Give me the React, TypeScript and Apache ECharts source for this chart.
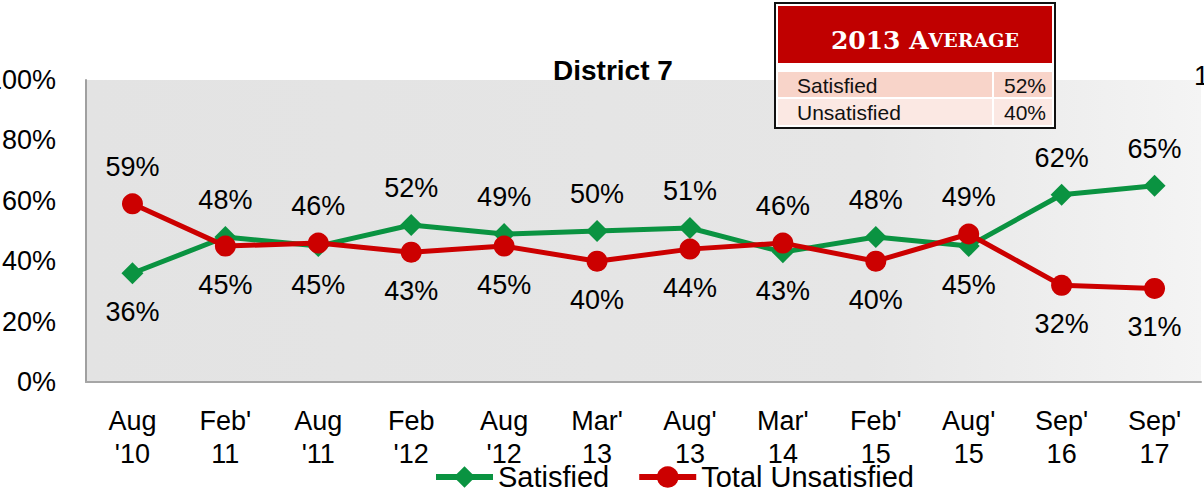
import React, { useEffect, useRef } from "react";
import * as echarts from "echarts";

const categories = ["Aug\n'10", "Feb'\n11", "Aug\n'11", "Feb\n'12", "Aug\n'12", "Mar'\n13", "Aug'\n13", "Mar'\n14", "Feb'\n15", "Aug'\n15", "Sep'\n16", "Sep'\n17"];
const satisfied = [36, 48, 45, 52, 49, 50, 51, 43, 48, 45, 62, 65];
const unsatisfied = [59, 45, 46, 43, 45, 40, 44, 46, 40, 49, 32, 31];
const yTicks = { min: 0, max: 100, interval: 20 };
const avgLabels = ["Satisfied", "Unsatisfied"];
const avgValues = [52, 40];

const FONT = "'Liberation Sans', Arial, sans-serif";
const GREEN = "#0A9341";
const RED = "#CC0000";

function labelled(values: number[], other: number[]) {
  return values.map((v, i) => ({
    value: v,
    label: { offset: [0, v >= other[i] ? -37 : 39] },
  }));
}

export default function App() {
  const ref = useRef<HTMLDivElement>(null);
  useEffect(() => {
    if (!ref.current) return;
    const chart = echarts.init(ref.current, null, { renderer: "svg" });
    const tableX = 775;
    const tableY = 3;
    chart.setOption({
      animation: false,
      backgroundColor: "#ffffff",
      title: {
        text: "District 7",
        left: 553,
        top: 56,
        padding: 0,
        textStyle: { fontSize: 28, fontWeight: "bold", fontFamily: FONT, color: "#000" },
      },
      grid: {
        left: 86,
        top: 80,
        width: 1115,
        height: 302,
        outerBoundsMode: "none",
        containLabel: false,
        show: true,
        borderWidth: 0,
        backgroundColor: new echarts.graphic.LinearGradient(0, 0, 1, 0, [
          { offset: 0, color: "#E3E3E3" },
          { offset: 0.7, color: "#E6E6E6" },
          { offset: 1, color: "#F4F4F4" },
        ]),
      },
      legend: {
        data: ["Satisfied", "Total Unsatisfied"],
        left: 433,
        top: 462,
        padding: 0,
        itemWidth: 57,
        itemHeight: 27,
        itemGap: 27,
        lineStyle: { width: 6 },
        textStyle: { fontSize: 29, fontFamily: FONT, color: "#000", lineHeight: 30 },
      },
      xAxis: {
        type: "category",
        data: categories,
        boundaryGap: true,
        axisTick: { show: false },
        axisLine: { show: true, lineStyle: { color: "#A6A6A6", width: 2 } },
        axisLabel: { fontSize: 27, fontFamily: FONT, color: "#000", margin: 22, lineHeight: 33, interval: 0 },
      },
      yAxis: {
        type: "value",
        min: yTicks.min,
        max: yTicks.max,
        interval: yTicks.interval,
        splitLine: { show: false },
        axisTick: { show: false },
        axisLine: { show: true, lineStyle: { color: "#A0A0A0", width: 2 } },
        axisLabel: { fontSize: 27, fontFamily: FONT, color: "#000", margin: 30, formatter: "{value}%" },
      },
      series: [
        {
          name: "Satisfied",
          type: "line",
          data: labelled(satisfied, unsatisfied),
          symbol: "diamond",
          symbolSize: 22,
          lineStyle: { color: GREEN, width: 5 },
          itemStyle: { color: GREEN },
          label: { show: true, position: "inside", formatter: "{c}%", fontSize: 27, fontFamily: FONT, color: "#000" },
          z: 2,
        },
        {
          name: "Total Unsatisfied",
          type: "line",
          data: labelled(unsatisfied, satisfied),
          symbol: "circle",
          symbolSize: 21,
          lineStyle: { color: RED, width: 5 },
          itemStyle: { color: RED },
          label: { show: true, position: "inside", formatter: "{c}%", fontSize: 27, fontFamily: FONT, color: "#000" },
          z: 3,
        },
      ],
      graphic: [
        {
          type: "text",
          left: 1194,
          top: 62,
          style: { text: "100%", fontSize: 27, fontFamily: FONT, fill: "#000" },
        },
        {
          type: "group",
          x: tableX,
          y: tableY,
          children: [
            { type: "rect", shape: { x: 0, y: 0, width: 280, height: 125 }, style: { fill: "#ffffff", stroke: "#111", lineWidth: 2 } },
            { type: "rect", shape: { x: 3, y: 3, width: 274, height: 57 }, style: { fill: "#C00000" } },
            { type: "rect", shape: { x: 3, y: 69, width: 274, height: 25 }, style: { fill: "#F8D4C9" } },
            { type: "rect", shape: { x: 3, y: 96, width: 274, height: 26 }, style: { fill: "#FBE8E3" } },
            { type: "rect", shape: { x: 217, y: 69, width: 2, height: 53 }, style: { fill: "#ffffff" } },
            {
              type: "text",
              x: 150,
              y: 37,
              style: {
                text: "{a|2013 A}{b|VERAGE}",
                align: "center",
                verticalAlign: "middle",
                rich: {
                  a: { fontSize: 25, fontWeight: "bold", fontFamily: "'DejaVu Serif', serif", fill: "#fff", color: "#fff" },
                  b: { fontSize: 19, fontWeight: "bold", fontFamily: "'DejaVu Serif', serif", fill: "#fff", color: "#fff" },
                },
              },
            },
            ...avgLabels.flatMap((lab, i) => [
              {
                type: "text",
                x: 22,
                y: 82 + i * 27,
                style: { text: lab, fontSize: 21, fontFamily: FONT, fill: "#111", verticalAlign: "middle" },
              },
              {
                type: "text",
                x: 271,
                y: 82 + i * 27,
                style: { text: avgValues[i] + "%", fontSize: 21, fontFamily: FONT, fill: "#111", align: "right", verticalAlign: "middle" },
              },
            ]),
          ],
        },
      ],
    });
    return () => chart.dispose();
  }, []);
  return <div ref={ref} style={{ position: "absolute", left: 0, top: 0, width: 1204, height: 491 }} />;
}
